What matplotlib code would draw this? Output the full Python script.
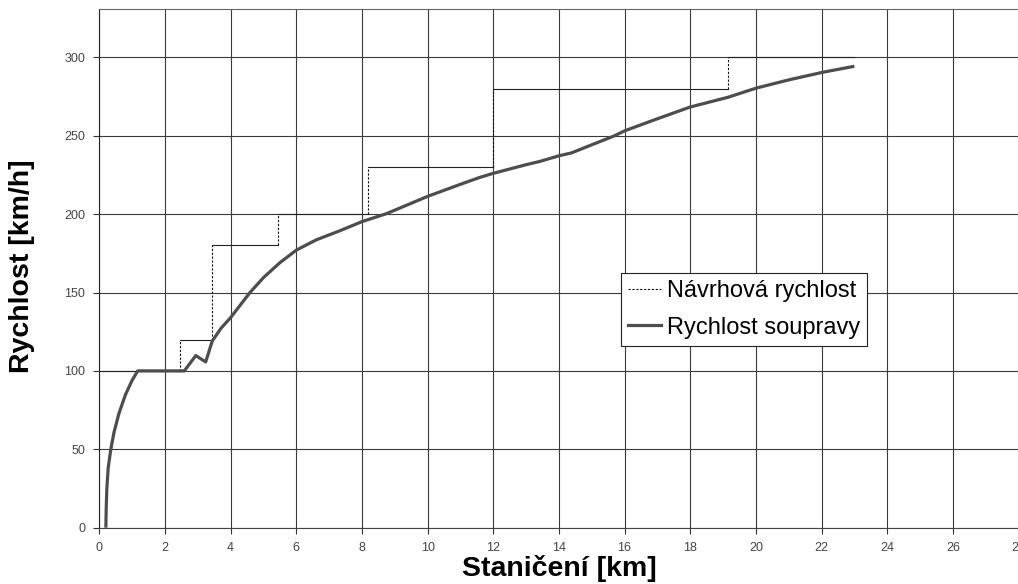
import matplotlib
matplotlib.use("Agg")
import matplotlib.pyplot as plt
import numpy as np

# Design speed (step profile) - breakpoints
design_km = [0.0, 2.45, 2.45, 3.44, 3.44, 5.45, 5.45, 8.2, 8.2, 12.0, 12.0, 19.15, 19.15, 23.0]
design_speed = [100, 100, 120, 120, 180, 180, 200, 200, 230, 230, 280, 280, 300, 300]

# Train speed
train_km = [0.20, 0.21, 0.23, 0.27, 0.35, 0.45, 0.60, 0.80, 1.00, 1.17, 2.59, 2.94, 3.24,
            3.44, 3.70, 4.00, 4.59, 5.00, 5.50, 6.00, 6.60, 7.33, 8.00, 8.75, 10.0, 11.0, 11.59,
            12.0, 13.0, 13.42, 14.0, 14.38, 15.0, 15.70, 16.0, 17.0, 17.68, 18.0, 19.15,
            20.0, 21.0, 22.0, 23.0]
train_speed = [0, 12, 25, 38, 50, 61, 73, 85, 94, 100, 100, 109.8, 105.7,
               119, 127, 134, 150, 159.5, 169, 177, 183.5, 189.4, 195.2, 200.3, 211.3, 219, 223.4,
               226, 231.5, 233.6, 237.2, 239, 244.2, 250, 253.1, 260.8, 265.9, 268.3, 274.5,
               280.3, 285.6, 290.3, 294.3]

x_ticks = list(range(0, 29, 2))
y_ticks = [0, 50, 100, 150, 200, 250, 300]

W, H = 1018, 584
fig = plt.figure(figsize=(W / 100, H / 100), dpi=100)
left, right, top, bottom = 99.3, 1018.5, 8.7, 527.7
aw, ah = right - left, bottom - top
ax = fig.add_axes([left / W, 1 - bottom / H, aw / W, ah / H])

ax.set_xlim(0, 28)
ax.set_ylim(0, 331)
ax.set_xticks(x_ticks)
ax.set_yticks(y_ticks)
ax.grid(True, color="#3a3a3a", linewidth=0.8)
ax.set_axisbelow(True)
for s in ax.spines.values():
    s.set_color("#666666")
    s.set_linewidth(0.8)
ax.spines["left"].set_color("#222222")
ax.spines["bottom"].set_color("#444444")

ax.tick_params(axis="both", direction="out", length=4, width=0.8, color="#333333",
               labelsize=9, labelcolor="#444444", pad=6)
for lab in ax.get_xticklabels() + ax.get_yticklabels():
    lab.set_family("Liberation Sans")

# Design speed: horizontal parts solid thin, vertical parts dotted (as rendered in the source)
dk = np.array(design_km)
dv = np.array(design_speed, dtype=float)
for i in range(len(dk) - 1):
    xs = [dk[i], dk[i + 1]]
    ys = [dv[i], dv[i + 1]]
    if dk[i] == dk[i + 1]:
        ax.plot(xs, ys, color="#111111", linewidth=0.8, linestyle=(0, (2, 1.5)))
    else:
        ax.plot(xs, ys, color="#222222", linewidth=0.8, linestyle="-")

ax.plot(train_km, train_speed, color="#4d4d4d", linewidth=2.3,
        solid_capstyle="butt", solid_joinstyle="round")

# Legend proxies
h1, = ax.plot([], [], color="#111111", linewidth=0.8, linestyle=(0, (2, 1.5)))
h2, = ax.plot([], [], color="#4d4d4d", linewidth=2.3)
leg = ax.legend([h1, h2], ["Návrhová rychlost", "Rychlost soupravy"],
                loc="upper left", bbox_to_anchor=((620.7 - left) / aw,
                                                  1 - (273.3 - top) / ah),
                frameon=True, fancybox=False, framealpha=1, edgecolor="#222222",
                prop={"family": "Liberation Sans", "size": 17},
                handlelength=1.4, handletextpad=0.25, borderpad=0.3,
                labelspacing=0.6, borderaxespad=0)
leg.get_frame().set_linewidth(0.8)

ax.set_xlabel("Staničení [km]", fontsize=20.5, fontweight="bold",
              family="Liberation Sans")
ax.set_ylabel("Rychlost [km/h]", fontsize=20.5, fontweight="bold",
              family="Liberation Sans")
ax.xaxis.set_label_coords((559 - left) / aw, -(555 - bottom) / ah)
ax.yaxis.set_label_coords(-(left - 35) / aw, 1 - (266 - top) / ah)

fig.savefig("out.png", dpi=100, facecolor="white")
